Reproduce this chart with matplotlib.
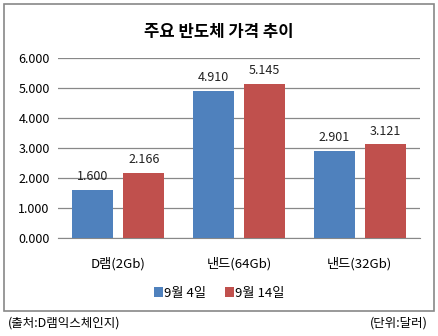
import numpy as np
import matplotlib.pyplot as plt
from matplotlib.patches import Rectangle

plt.rcParams['font.family'] = ['Noto Sans CJK KR', 'DejaVu Sans']

categories = ['D램(2Gb)', '낸드(64Gb)', '낸드(32Gb)']
series_names = ['9월 4일', '9월 14일']
sep4 = [1.600, 4.910, 2.901]
sep14 = [2.166, 5.145, 3.121]
colors = ['#4F81BD', '#C0504D']

fig = plt.figure(figsize=(4.38, 3.36), dpi=100)
W, H = 438, 336
ax = fig.add_axes([58 / W, 1 - 238 / H, (420 - 58) / W, (238 - 58) / H])

x = np.arange(len(categories))
w = 0.34
gap = 0.083
for i, (vals, c) in enumerate(zip([sep4, sep14], colors)):
    off = (i - 0.5) * (w + gap)
    bars = ax.bar(x + off, vals, w, color=c, label=series_names[i], zorder=3)
    for b, v in zip(bars, vals):
        ax.text(b.get_x() + b.get_width() / 2, v + 0.22, f'{v:.3f}',
                ha='center', va='bottom', fontsize=9, color='#222222', zorder=4)

ax.set_xlim(-0.5, 2.5)
ax.set_ylim(0, 6)
ax.set_yticks(np.arange(0, 7, 1))
ax.set_yticklabels([f'{t:.3f}' for t in range(7)], fontsize=9)
ax.set_xticks(x)
ax.set_xticklabels(categories, fontsize=9.5)
ax.tick_params(axis='both', length=0, pad=6)
ax.tick_params(axis='x', pad=14)
ax.grid(axis='y', color='#888888', linewidth=0.9, zorder=0)
for s in ['top', 'right', 'left']:
    ax.spines[s].set_visible(False)
ax.spines['bottom'].set_color('#888888')

fig.text(0.5, 1 - 32 / H, '주요 반도체 가격 추이', ha='center', va='center',
         fontsize=12, fontweight='bold')

fig.legend(loc='center', bbox_to_anchor=(0.5, 1 - 293 / H), ncol=2, frameon=False,
           fontsize=9.5, handlelength=0.7, handleheight=0.7, handletextpad=0.1,
           columnspacing=1.4)

# outer frame
fig.patches.append(Rectangle((4 / W, 1 - 311 / H), 430 / W, 307 / H,
                             transform=fig.transFigure, fill=False,
                             edgecolor='#888888', linewidth=1.2))

fig.text(8 / W, 1 - 323 / H, '(출처:D램익스체인지)', ha='left', va='center', fontsize=9)
fig.text(428 / W, 1 - 323 / H, '(단위:달러)', ha='right', va='center', fontsize=9)

fig.savefig('out.png', dpi=100)
